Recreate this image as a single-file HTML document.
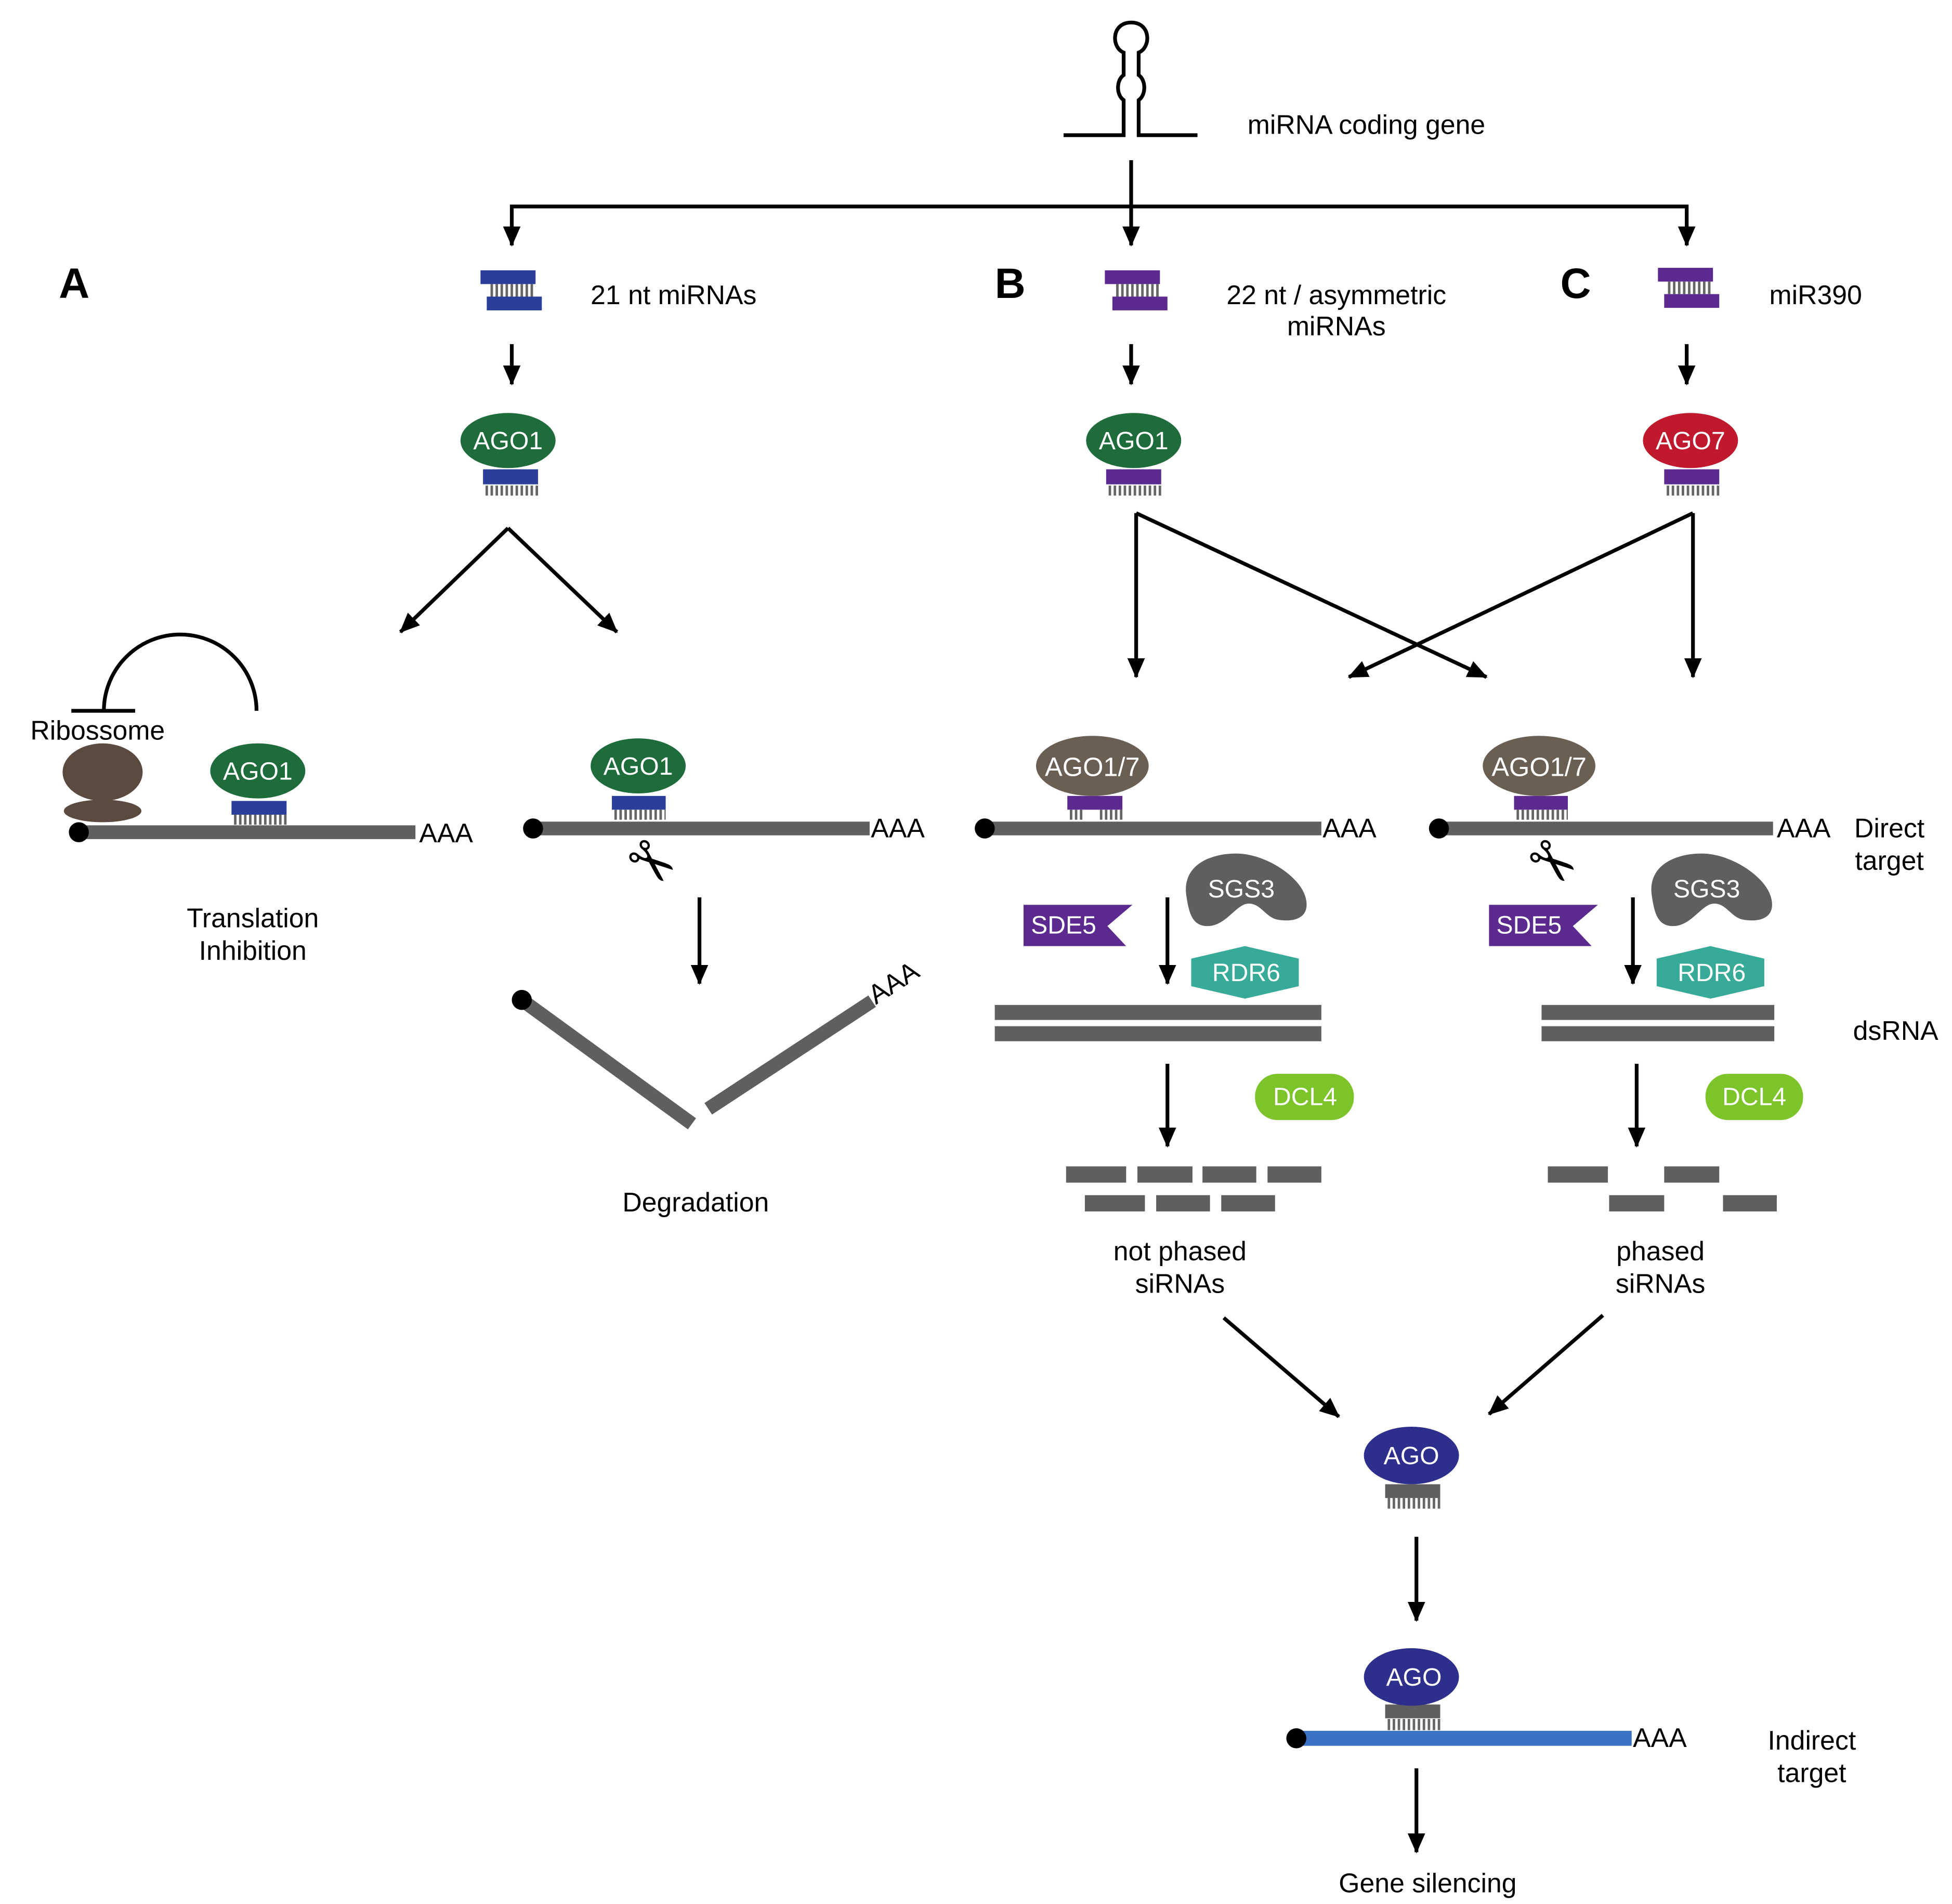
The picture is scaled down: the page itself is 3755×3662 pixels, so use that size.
<!DOCTYPE html>
<html><head><meta charset="utf-8"><style>html,body{margin:0;padding:0;background:#fff}svg{display:block}
text{font-family:"Liberation Sans",sans-serif}</style></head><body>
<svg xmlns="http://www.w3.org/2000/svg" width="3755" height="3662" viewBox="0 0 1560 1521.4">
<defs>
<marker id="ah" markerUnits="userSpaceOnUse" markerWidth="16" markerHeight="14" refX="15" refY="7" orient="auto"><path d="M0,0 L16,7 L0,14 Z" fill="#000"/></marker>
</defs>
<rect width="1560" height="1522" fill="#fff"/>
<g fill="none" stroke="#000" stroke-width="3">
<path d="M850,108 H898 V80 C892,76 892,64 898,60 V42 C888,38 888,18 904,18 C920,18 920,38 910,42 V60 C916,64 916,76 910,80 V108 H957"/>
<line x1="904" y1="128" x2="904" y2="196" marker-end="url(#ah)"/>
<path d="M409,196 V165 H1348 V196" />
<line x1="409" y1="180" x2="409" y2="196" marker-end="url(#ah)"/>
<line x1="1348" y1="180" x2="1348" y2="196" marker-end="url(#ah)"/>
<line x1="409" y1="275" x2="409" y2="307" marker-end="url(#ah)"/>
<line x1="904" y1="275" x2="904" y2="307" marker-end="url(#ah)"/>
<line x1="1348" y1="275" x2="1348" y2="307" marker-end="url(#ah)"/>
<line x1="406" y1="422" x2="320" y2="505" marker-end="url(#ah)"/>
<line x1="406" y1="422" x2="493" y2="505" marker-end="url(#ah)"/>
<line x1="908" y1="410" x2="908" y2="541" marker-end="url(#ah)"/>
<line x1="908" y1="410" x2="1188" y2="541" marker-end="url(#ah)"/>
<line x1="1353" y1="410" x2="1078" y2="541" marker-end="url(#ah)"/>
<line x1="1353" y1="410" x2="1353" y2="541" marker-end="url(#ah)"/>
<path d="M83,568 A61,61 0 0 1 205,568"/>
<line x1="57" y1="568" x2="108" y2="568"/>
<line x1="559" y1="717" x2="559" y2="786" marker-end="url(#ah)"/>
<line x1="933" y1="717" x2="933" y2="786" marker-end="url(#ah)"/>
<line x1="1305" y1="717" x2="1305" y2="786" marker-end="url(#ah)"/>
<line x1="933" y1="850" x2="933" y2="916" marker-end="url(#ah)"/>
<line x1="1308" y1="850" x2="1308" y2="916" marker-end="url(#ah)"/>
<line x1="978" y1="1053" x2="1070" y2="1132" marker-end="url(#ah)"/>
<line x1="1281" y1="1051" x2="1190" y2="1130" marker-end="url(#ah)"/>
<line x1="1132" y1="1228" x2="1132" y2="1295" marker-end="url(#ah)"/>
<line x1="1132" y1="1413" x2="1132" y2="1480" marker-end="url(#ah)"/>
</g>
<g>
<rect x="384" y="216" width="44" height="11" fill="#2a3e9a"/><rect x="389" y="237" width="44" height="11" fill="#2a3e9a"/>
<line x1="392" y1="232" x2="426" y2="232" stroke="#666" stroke-width="10" stroke-dasharray="2 2"/>
<rect x="883" y="216" width="44" height="11" fill="#5c2a8e"/><rect x="889" y="237" width="44" height="11" fill="#5c2a8e"/>
<line x1="892" y1="232" x2="926" y2="232" stroke="#666" stroke-width="10" stroke-dasharray="2 2"/>
<rect x="1325" y="214" width="44" height="11" fill="#5c2a8e"/><rect x="1330" y="235" width="44" height="11" fill="#5c2a8e"/>
<line x1="1333" y1="230" x2="1367" y2="230" stroke="#666" stroke-width="10" stroke-dasharray="2 2"/>
</g>
<g font-size="21.5" fill="#000">
<text x="997" y="107">miRNA coding gene</text>
<text x="472" y="243">21 nt miRNAs</text>
<text x="1068" y="243" text-anchor="middle">22 nt / asymmetric</text>
<text x="1068" y="268" text-anchor="middle">miRNAs</text>
<text x="1414" y="243">miR390</text>
<text x="78" y="591" text-anchor="middle">Ribossome</text>
<text x="202" y="741" text-anchor="middle">Translation</text>
<text x="202" y="767" text-anchor="middle">Inhibition</text>
<text x="556" y="968" text-anchor="middle">Degradation</text>
<text x="943" y="1007" text-anchor="middle">not phased</text>
<text x="943" y="1033" text-anchor="middle">siRNAs</text>
<text x="1327" y="1007" text-anchor="middle">phased</text>
<text x="1327" y="1033" text-anchor="middle">siRNAs</text>
<text x="1510" y="669" text-anchor="middle">Direct</text>
<text x="1510" y="695" text-anchor="middle">target</text>
<text x="1515" y="831" text-anchor="middle">dsRNA</text>
<text x="1448" y="1398" text-anchor="middle">Indirect</text>
<text x="1448" y="1424" text-anchor="middle">target</text>
<text x="1141" y="1512" text-anchor="middle">Gene silencing</text>
<text x="335" y="673">AAA</text><text x="696" y="669">AAA</text>
<text x="1057" y="669">AAA</text><text x="1420" y="669">AAA</text>
<text x="1305" y="1396">AAA</text>
<text x="700" y="803" transform="rotate(-33 700 803)">AAA</text>
</g>
<g font-size="34" font-weight="bold"><text x="47" y="238">A</text><text x="795" y="238">B</text><text x="1247" y="238">C</text></g>
<g font-size="20" fill="#fff" text-anchor="middle">
<ellipse cx="406" cy="352" rx="38" ry="22" fill="#1e6b3c"/><text x="406" y="359">AGO1</text>
<ellipse cx="906" cy="352" rx="38" ry="22" fill="#1e6b3c"/><text x="906" y="359">AGO1</text>
<ellipse cx="1351" cy="352" rx="38" ry="22" fill="#c0192e"/><text x="1351" y="359">AGO7</text>
</g>
<rect x="386" y="375" width="44" height="12" fill="#2a3e9a"/><line x1="388" y1="392" x2="430" y2="392" stroke="#666" stroke-width="8" stroke-dasharray="2 2"/>
<rect x="884" y="375" width="44" height="12" fill="#5c2a8e"/><line x1="886" y1="392" x2="928" y2="392" stroke="#666" stroke-width="8" stroke-dasharray="2 2"/>
<rect x="1330" y="375" width="44" height="12" fill="#5c2a8e"/><line x1="1332" y1="392" x2="1374" y2="392" stroke="#666" stroke-width="8" stroke-dasharray="2 2"/>
<ellipse cx="82" cy="617" rx="32" ry="23" fill="#5a4a3f"/><ellipse cx="82" cy="648" rx="31" ry="9" fill="#5a4a3f"/>
<line x1="63" y1="665" x2="332" y2="665" stroke="#5f5f5f" stroke-width="11"/><circle cx="63" cy="665" r="8"/>
<rect x="185" y="640" width="44" height="11" fill="#2a3e9a"/><line x1="187" y1="655" x2="229" y2="655" stroke="#666" stroke-width="8" stroke-dasharray="2 2"/>
<ellipse cx="206" cy="616" rx="38" ry="22" fill="#1e6b3c"/><text x="206" y="623" font-size="20" fill="#fff" text-anchor="middle">AGO1</text>
<line x1="426" y1="662" x2="695" y2="662" stroke="#5f5f5f" stroke-width="11"/><circle cx="426" cy="662" r="8"/>
<rect x="489" y="636" width="43" height="11" fill="#2a3e9a"/><line x1="491" y1="651" x2="532" y2="651" stroke="#666" stroke-width="8" stroke-dasharray="2 2"/>
<ellipse cx="510" cy="612" rx="38" ry="22" fill="#1e6b3c"/><text x="510" y="619" font-size="20" fill="#fff" text-anchor="middle">AGO1</text>
<text x="520" y="705" font-size="46" text-anchor="middle" transform="rotate(40 520 690)">✂</text>
<text x="1240" y="705" font-size="46" text-anchor="middle" transform="rotate(40 1240 690)">✂</text>
<line x1="417" y1="799" x2="553" y2="898" stroke="#5f5f5f" stroke-width="11"/><circle cx="417" cy="799" r="8"/>
<line x1="566" y1="886" x2="697" y2="800" stroke="#5f5f5f" stroke-width="11"/>
<line x1="787" y1="662" x2="1056" y2="662" stroke="#5f5f5f" stroke-width="11"/><circle cx="787" cy="662" r="8"/>
<rect x="853" y="636" width="44" height="11" fill="#5c2a8e"/>
<line x1="855" y1="651" x2="867" y2="651" stroke="#666" stroke-width="8" stroke-dasharray="2 2"/><line x1="879" y1="651" x2="897" y2="651" stroke="#666" stroke-width="8" stroke-dasharray="2 2"/>
<ellipse cx="873" cy="612" rx="45" ry="24" fill="#6b5e52"/><text x="873" y="620" font-size="21" fill="#fff" text-anchor="middle">AGO1/7</text>
<path d="M948,715 C945,692 966,682 988,682 C1012,682 1042,702 1044,720 C1046,733 1035,737 1022,735 C1012,734 1008,722 998,722 C988,722 980,740 965,740 C952,740 950,728 948,715 Z" fill="#5f5f5f"/>
<text x="992" y="717" font-size="20" fill="#fff" text-anchor="middle">SGS3</text>
<polygon points="818,723 905,723 885,740 900,756 818,756" fill="#5c2a8e"/><text x="850" y="746" font-size="20" fill="#fff" text-anchor="middle">SDE5</text>
<polygon points="952,766 995,756 1038,766 1038,788 995,798 952,788" fill="#37ab98"/><text x="996" y="784" font-size="20" fill="#fff" text-anchor="middle">RDR6</text>
<rect x="795" y="803" width="261" height="12" fill="#5f5f5f"/><rect x="795" y="820" width="261" height="12" fill="#5f5f5f"/>
<rect x="1003" y="858" width="79" height="37" rx="18" fill="#7cc42a"/><text x="1043" y="883" font-size="20" fill="#fff" text-anchor="middle">DCL4</text>
<g fill="#5f5f5f"><rect x="852" y="932" width="48" height="13"/><rect x="909" y="932" width="44" height="13"/><rect x="961" y="932" width="43" height="13"/><rect x="1013" y="932" width="43" height="13"/>
<rect x="867" y="955" width="48" height="13"/><rect x="924" y="955" width="43" height="13"/><rect x="976" y="955" width="43" height="13"/></g>
<line x1="1150" y1="662" x2="1417" y2="662" stroke="#5f5f5f" stroke-width="11"/><circle cx="1150" cy="662" r="8"/>
<rect x="1210" y="636" width="43" height="11" fill="#5c2a8e"/><line x1="1212" y1="651" x2="1253" y2="651" stroke="#666" stroke-width="8" stroke-dasharray="2 2"/>
<ellipse cx="1230" cy="612" rx="45" ry="24" fill="#6b5e52"/><text x="1230" y="620" font-size="21" fill="#fff" text-anchor="middle">AGO1/7</text>
<path d="M1320,715 C1317,692 1338,682 1360,682 C1384,682 1414,702 1416,720 C1418,733 1407,737 1394,735 C1384,734 1380,722 1370,722 C1360,722 1352,740 1337,740 C1324,740 1322,728 1320,715 Z" fill="#5f5f5f"/>
<text x="1364" y="717" font-size="20" fill="#fff" text-anchor="middle">SGS3</text>
<polygon points="1190,723 1277,723 1257,740 1272,756 1190,756" fill="#5c2a8e"/><text x="1222" y="746" font-size="20" fill="#fff" text-anchor="middle">SDE5</text>
<polygon points="1324,766 1367,756 1410,766 1410,788 1367,798 1324,788" fill="#37ab98"/><text x="1368" y="784" font-size="20" fill="#fff" text-anchor="middle">RDR6</text>
<rect x="1232" y="803" width="186" height="12" fill="#5f5f5f"/><rect x="1232" y="820" width="186" height="12" fill="#5f5f5f"/>
<rect x="1363" y="858" width="78" height="37" rx="18" fill="#7cc42a"/><text x="1402" y="883" font-size="20" fill="#fff" text-anchor="middle">DCL4</text>
<g fill="#5f5f5f"><rect x="1237" y="932" width="48" height="13"/><rect x="1330" y="932" width="44" height="13"/>
<rect x="1286" y="955" width="44" height="13"/><rect x="1377" y="955" width="43" height="13"/></g>
<rect x="1107" y="1186" width="44" height="11" fill="#5f5f5f"/><line x1="1109" y1="1201" x2="1151" y2="1201" stroke="#666" stroke-width="9" stroke-dasharray="2 2"/>
<ellipse cx="1128" cy="1163" rx="38" ry="23" fill="#2e2f8c"/><text x="1128" y="1170" font-size="20" fill="#fff" text-anchor="middle">AGO</text>
<line x1="1036" y1="1389" x2="1304" y2="1389" stroke="#3a72c4" stroke-width="12"/><circle cx="1036" cy="1389" r="8"/>
<rect x="1107" y="1362" width="44" height="11" fill="#5f5f5f"/><line x1="1109" y1="1378" x2="1151" y2="1378" stroke="#666" stroke-width="9" stroke-dasharray="2 2"/>
<ellipse cx="1128" cy="1340" rx="38" ry="23" fill="#2e2f8c"/><text x="1130" y="1347" font-size="20" fill="#fff" text-anchor="middle">AGO</text>
</svg>
</body></html>
